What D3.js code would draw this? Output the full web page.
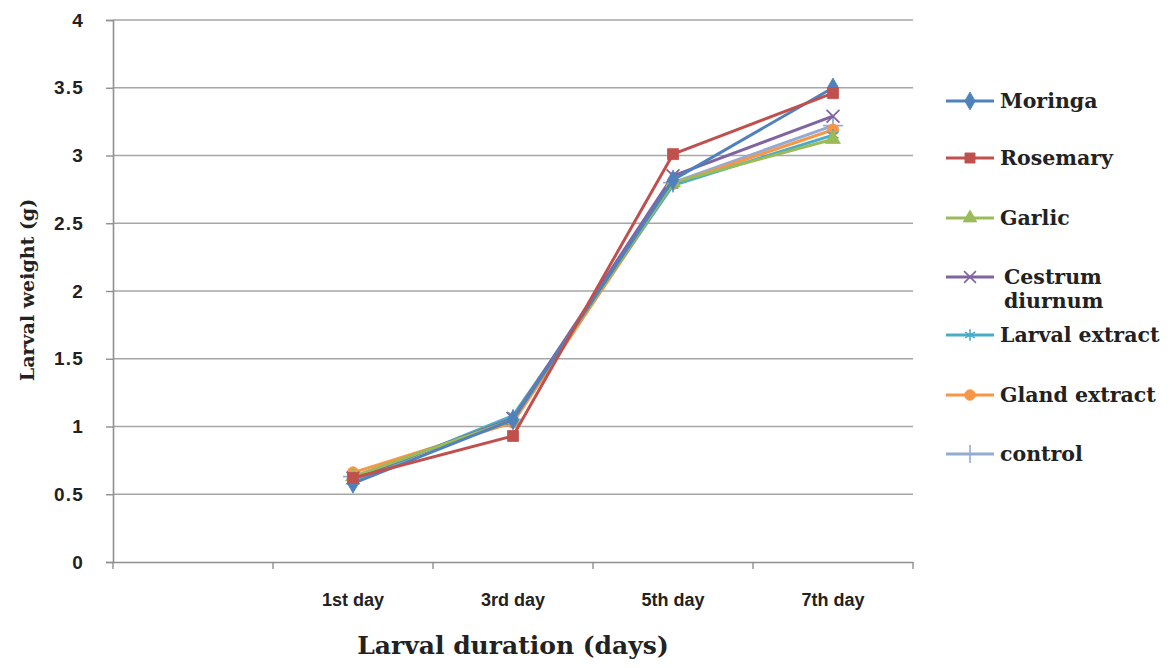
<!DOCTYPE html>
<html>
<head>
<meta charset="utf-8">
<script src="https://cdn.jsdelivr.net/npm/d3@7/dist/d3.min.js"></script>
<style>
  html, body { margin: 0; padding: 0; background: #fff; }
  svg { display: block; }
</style>
</head>
<body>
<svg id="chart" width="1174" height="668"></svg>
<script>
// ---- data ----
const categories = ["", "1st day", "3rd day", "5th day", "7th day"];
const days = ["1st day", "3rd day", "5th day", "7th day"];
const yTicks = [0, 0.5, 1, 1.5, 2, 2.5, 3, 3.5, 4];
const seriesNames = ["Moringa", "Rosemary", "Garlic", "Cestrum diurnum", "Larval extract", "Gland extract", "control"];
const moringa       = [0.58, 1.05, 2.82, 3.50];
const rosemary      = [0.62, 0.93, 3.01, 3.46];
const garlic        = [0.63, 1.05, 2.80, 3.12];
const cestrum       = [0.62, 1.06, 2.85, 3.29];
const larvalExtract = [0.60, 1.08, 2.78, 3.15];
const glandExtract  = [0.66, 1.03, 2.79, 3.19];
const control       = [0.63, 1.05, 2.80, 3.22];
const seriesValues = [moringa, rosemary, garlic, cestrum, larvalExtract, glandExtract, control];

// ---- styles ----
const colors = ["#4F81BD", "#C0504D", "#9BBB59", "#8064A2", "#4BACC6", "#F79646", "#94AAD3"];
const symbols = [d3.symbolDiamond, d3.symbolSquare, d3.symbolTriangle, d3.symbolX, d3.symbolAsterisk, d3.symbolCircle, d3.symbolPlus];
const strokeSym = [false, false, false, true, true, false, true];
const symSize = [110, 120, 95, 110, 110, 105, 130];

const svg = d3.select("#chart");
const pLeft = 113, pRight = 913, pTop = 20, pBottom = 562;

const x = d3.scaleBand().domain(categories).range([pLeft, pRight]).paddingInner(0).paddingOuter(0);
const y = d3.scaleLinear().domain([0, 4]).range([pBottom, pTop]);

// gridlines
svg.append("g").selectAll("line").data(yTicks.filter(d => d > 0)).join("line")
  .attr("x1", pLeft).attr("x2", pRight)
  .attr("y1", d => y(d)).attr("y2", d => y(d))
  .attr("stroke", "#a6a6a6").attr("stroke-width", 1.4);

// y axis
const yAxis = d3.axisLeft(y).tickValues(yTicks).tickSize(7).tickPadding(22)
  .tickFormat(d => d3.format("")(d));
const gy = svg.append("g").attr("transform", `translate(${pLeft},0)`).call(yAxis);
gy.select(".domain").attr("stroke", "#909090").attr("stroke-width", 1.6);
gy.selectAll(".tick line").attr("stroke", "#909090").attr("stroke-width", 1.4);
gy.selectAll(".tick text")
  .attr("font-family", "Liberation Sans, Arial, sans-serif")
  .attr("font-weight", "bold").attr("font-size", 19).attr("letter-spacing", 1.2).attr("fill", "#222");

// x axis (labels at band centers, ticks at band edges)
const xAxis = d3.axisBottom(x).tickSize(0).tickPadding(31);
const gx = svg.append("g").attr("transform", `translate(0,${pBottom})`).call(xAxis);
gx.select(".domain").attr("stroke", "#909090").attr("stroke-width", 1.6);
gx.selectAll(".tick text")
  .attr("font-family", "Liberation Sans Narrow, Liberation Sans, Arial, sans-serif")
  .attr("font-weight", "bold").attr("font-size", 18).attr("fill", "#222");
const edges = categories.map(c => x(c)).concat([x(categories[categories.length - 1]) + x.bandwidth()]);
gx.append("g").selectAll("line").data(edges).join("line")
  .attr("x1", d => d).attr("x2", d => d).attr("y1", 0).attr("y2", 7)
  .attr("stroke", "#909090").attr("stroke-width", 1.4);

// lines
const cx = d => x(d) + x.bandwidth() / 2;
const line = d3.line().x((v, i) => cx(days[i])).y(v => y(v));
const order = [6, 5, 4, 3, 2, 0, 1];
order.forEach(si => {
  const vals = seriesValues[si];
  svg.append("path").datum(vals).attr("d", line)
    .attr("fill", "none").attr("stroke", colors[si]).attr("stroke-width", 3)
    .attr("stroke-linejoin", "round");
  svg.append("g").selectAll("path").data(vals).join("path")
    .attr("transform", (v, i) => `translate(${cx(days[i])},${y(v)})`)
    .attr("d", d3.symbol().type(symbols[si]).size(symSize[si]))
    .attr("fill", strokeSym[si] ? "none" : colors[si])
    .attr("stroke", colors[si]).attr("stroke-width", strokeSym[si] ? 1.8 : 0.8);
});

// legend
const legY = [101, 158, 218, 277, 335, 395, 454];
const leg = svg.append("g");
seriesNames.forEach((name, si) => {
  const g = leg.append("g").attr("transform", `translate(946,${legY[si]})`);
  g.append("line").attr("x1", 0).attr("x2", 48).attr("y1", 0).attr("y2", 0)
    .attr("stroke", colors[si]).attr("stroke-width", 3);
  g.append("path").attr("transform", "translate(24,0)")
    .attr("d", d3.symbol().type(symbols[si]).size(symSize[si] * 0.85))
    .attr("fill", strokeSym[si] ? "none" : colors[si])
    .attr("stroke", colors[si]).attr("stroke-width", strokeSym[si] ? 1.6 : 0.8);
  const parts = si === 3 ? ["Cestrum", "diurnum"] : [name];
  const tx = si === 3 ? 58 : 54;
  const t = g.append("text").attr("x", tx).attr("y", 7)
    .attr("font-family", "DejaVu Serif, Liberation Serif, serif")
    .attr("font-weight", "bold").attr("font-size", 20.5).attr("fill", "#222");
  parts.forEach((p, k) => t.append("tspan").attr("x", tx).attr("dy", k === 0 ? 0 : 24).text(p));
});

// axis titles
svg.append("text").attr("x", 513).attr("y", 654).attr("text-anchor", "middle")
  .attr("font-family", "DejaVu Serif, Liberation Serif, serif")
  .attr("font-weight", "bold").attr("font-size", 25).attr("fill", "#222")
  .text("Larval duration (days)");
svg.append("text").attr("transform", "translate(34,290) rotate(-90)").attr("text-anchor", "middle")
  .attr("font-family", "DejaVu Serif, Liberation Serif, serif")
  .attr("font-weight", "bold").attr("font-size", 19).attr("fill", "#222")
  .text("Larval weight (g)");
</script>
</body>
</html>
